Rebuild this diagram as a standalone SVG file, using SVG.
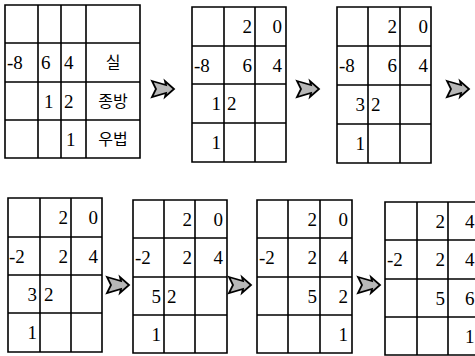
<svg xmlns="http://www.w3.org/2000/svg" width="475" height="356" viewBox="0 0 475 356">
<style>
.g{fill:none;stroke:#000;stroke-width:1.6}
.t{font-family:"Liberation Serif","Times New Roman",serif;font-size:19px;fill:#000}
.k{font-family:"Noto Sans CJK KR","Liberation Serif",sans-serif;font-size:16px;fill:#000;text-anchor:middle}
.e{text-anchor:end}
.ar{fill:#b8b8b8;stroke:#000;stroke-width:1.8;stroke-linejoin:miter}
</style>
<defs>
<path id="arrow" d="M0,0 L14,4 L13,0 L22,8 L13,16 L14,12 L0,16 L4,8 Z"/>
</defs>
<rect width="475" height="356" fill="#fff"/>

<g id="grid1">
<path class="g" d="M5,5H140V158H5Z M38,5V158 M61,5V158 M86,5V158 M5,43H140 M5,82H140 M5,120H140"/>
<text class="t" x="7" y="69">-8</text>
<text class="t" x="41" y="69">6</text>
<text class="t" x="64" y="69">4</text>
<text class="k" x="113" y="68">실</text>
<text class="t" x="44" y="108">1</text>
<text class="t" x="64" y="108">2</text>
<text class="k" x="113" y="107">종방</text>
<text class="t" x="66" y="146">1</text>
<text class="k" x="113" y="145">우법</text>
</g>

<g id="grid2">
<path class="g" d="M192,7H286V162H192Z M224,7V162 M255,7V162 M192,46H286 M192,84H286 M192,123H286"/>
<text class="t e" x="252" y="33">2</text>
<text class="t e" x="282" y="33">0</text>
<text class="t" x="194" y="72">-8</text>
<text class="t e" x="252" y="72">6</text>
<text class="t e" x="282" y="72">4</text>
<text class="t e" x="221" y="110">1</text>
<text class="t" x="227" y="110">2</text>
<text class="t e" x="221" y="149">1</text>
</g>

<g id="grid3">
<path class="g" d="M337,7H431V163H337Z M368,7V163 M400,7V163 M337,46H431 M337,85H431 M337,124H431"/>
<text class="t e" x="397" y="33">2</text>
<text class="t e" x="428" y="33">0</text>
<text class="t" x="339" y="72">-8</text>
<text class="t e" x="397" y="72">6</text>
<text class="t e" x="428" y="72">4</text>
<text class="t e" x="365" y="111">3</text>
<text class="t" x="371" y="111">2</text>
<text class="t e" x="365" y="150">1</text>
</g>

<g id="grid4">
<path class="g" d="M8,198H102V352H8Z M40,198V352 M71,198V352 M8,237H102 M8,275H102 M8,313H102"/>
<text class="t e" x="68" y="224">2</text>
<text class="t e" x="98" y="224">0</text>
<text class="t" x="9" y="263">-2</text>
<text class="t e" x="68" y="263">2</text>
<text class="t e" x="98" y="263">4</text>
<text class="t e" x="37" y="301">3</text>
<text class="t" x="44" y="301">2</text>
<text class="t e" x="37" y="339">1</text>
</g>

<g id="grid5">
<path class="g" d="M133,200H227V353H133Z M164,200V353 M195,200V353 M133,238H227 M133,277H227 M133,315H227"/>
<text class="t e" x="192" y="226">2</text>
<text class="t e" x="223" y="226">0</text>
<text class="t" x="135" y="264">-2</text>
<text class="t e" x="192" y="264">2</text>
<text class="t e" x="223" y="264">4</text>
<text class="t e" x="161" y="303">5</text>
<text class="t" x="167" y="303">2</text>
<text class="t e" x="161" y="341">1</text>
</g>

<g id="grid6">
<path class="g" d="M257,200H352V353H257Z M288,200V353 M320,200V353 M257,238H352 M257,277H352 M257,315H352"/>
<text class="t e" x="317" y="226">2</text>
<text class="t e" x="348" y="226">0</text>
<text class="t" x="259" y="264">-2</text>
<text class="t e" x="317" y="264">2</text>
<text class="t e" x="348" y="264">4</text>
<text class="t e" x="317" y="303">5</text>
<text class="t e" x="348" y="303">2</text>
<text class="t e" x="348" y="341">1</text>
</g>

<g id="grid7">
<path class="g" d="M385,202H480V355H385Z M417,202V355 M448,202V355 M385,240H480 M385,279H480 M385,317H480"/>
<text class="t e" x="445" y="228">2</text>
<text class="t" x="465" y="228">4</text>
<text class="t" x="387" y="266">-2</text>
<text class="t e" x="445" y="266">2</text>
<text class="t" x="465" y="266">4</text>
<text class="t e" x="445" y="305">5</text>
<text class="t" x="465" y="305">6</text>
<text class="t" x="465" y="343">1</text>
</g>

<g id="connectors">
<use href="#arrow" class="ar" transform="translate(152,81)"/>
<use href="#arrow" class="ar" transform="translate(297,81)"/>
<use href="#arrow" class="ar" transform="translate(447,81)"/>
<use href="#arrow" class="ar" transform="translate(107,277)"/>
<use href="#arrow" class="ar" transform="translate(229,277)"/>
<use href="#arrow" class="ar" transform="translate(358,277)"/>
</g>
</svg>
